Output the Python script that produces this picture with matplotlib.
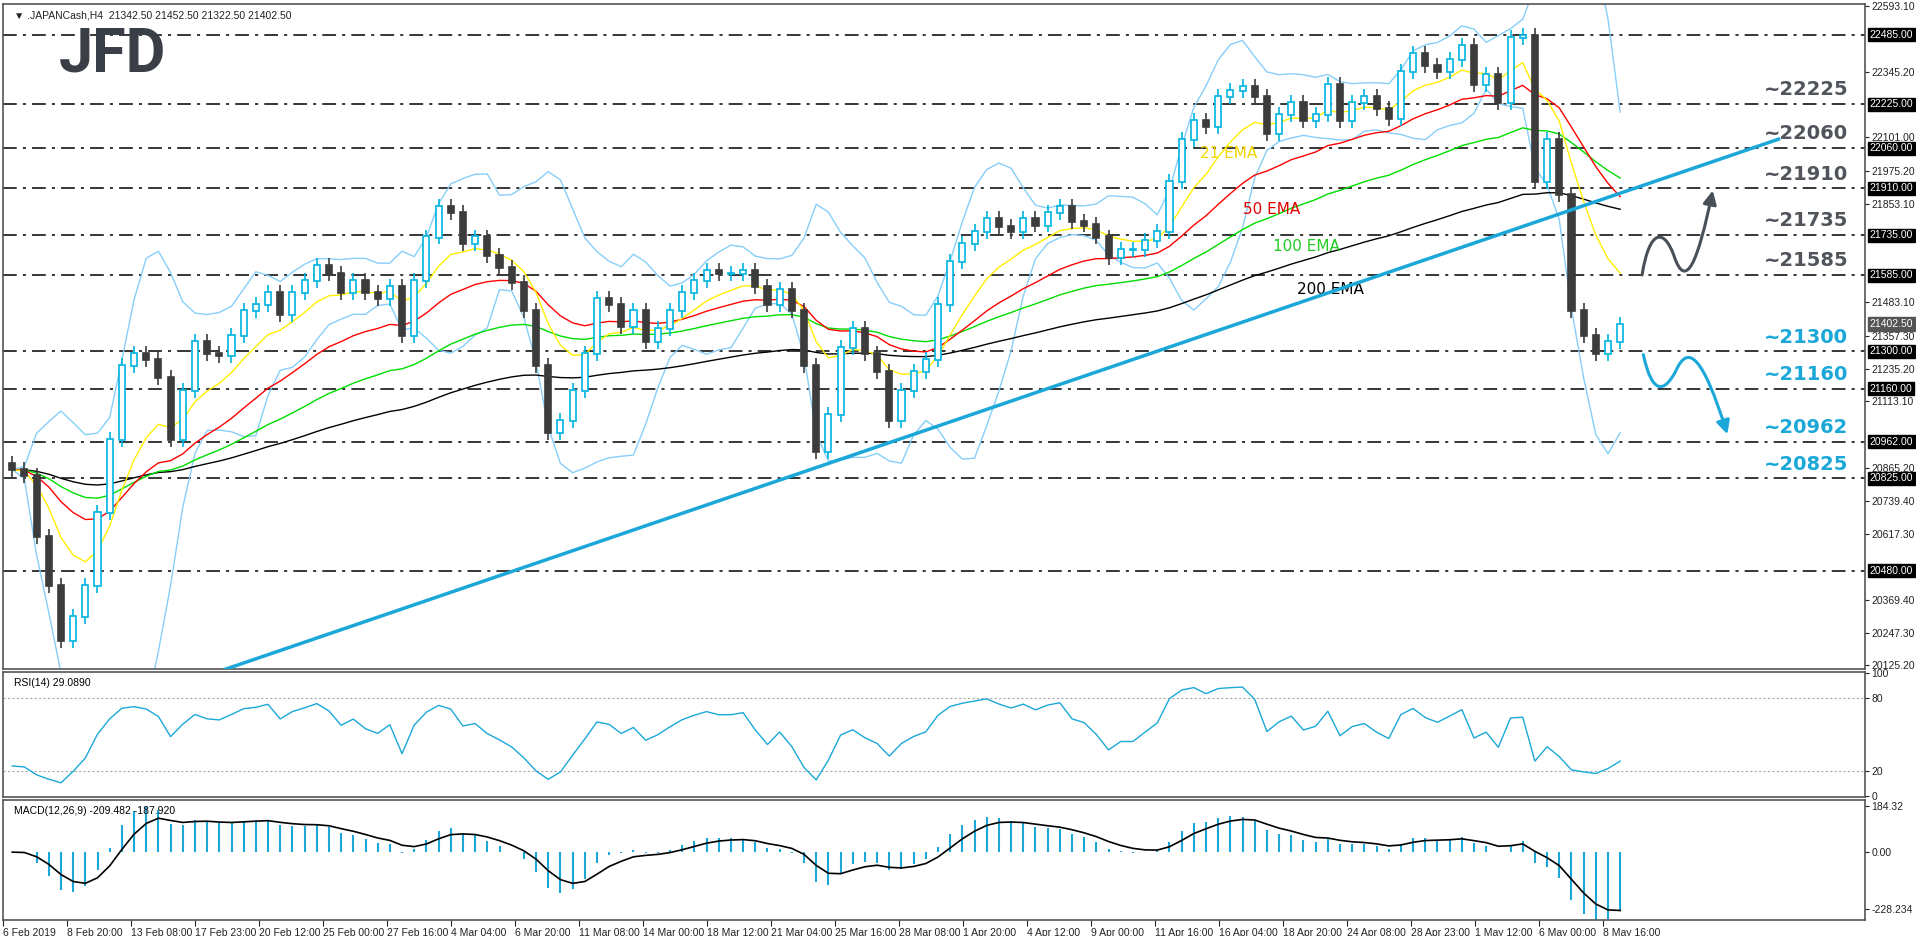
import numpy as np
import matplotlib
matplotlib.use("Agg")
import matplotlib.pyplot as plt
from matplotlib.patches import FancyArrowPatch
from matplotlib.path import Path

plt.rcParams['font.family'] = ['Liberation Sans', 'DejaVu Sans']

closes = [20858,20835,20606,20423,20217,20308,20423,20697,20972,21247,21293,21270,21201,20972,21155,
          21338,21293,21283,21361,21453,21476,21521,21439,21521,21567,21622,21590,21521,21567,21521,
          21498,21544,21361,21567,21728,21842,21819,21705,21728,21659,21613,21558,21453,21247,20995,
          21041,21155,21293,21498,21476,21393,21453,21338,21384,21453,21521,21567,21604,21590,21590,
          21604,21544,21476,21531,21453,21247,20926,21064,21315,21384,21293,21224,21041,21155,21224,
          21270,21476,21636,21705,21750,21796,21769,21750,21796,21773,21819,21842,21787,21773,21728,
          21650,21682,21682,21714,21750,21934,22094,22163,22140,22254,22277,22291,22254,22117,22186,
          22231,22163,22186,22300,22163,22231,22254,22208,22172,22346,22414,22369,22346,22392,22446,
          22300,22337,22231,22474,22483,21934,22094,21888,21453,21361,21293,21338,21402]
first_open = 20880
levels = [22485, 22225, 22060, 21910, 21735, 21585, 21300, 21160, 20962, 20825, 20480]
level_labels = ["~22225", "~22060", "~21910", "~21735", "~21585", "~21300", "~21160", "~20962", "~20825"]
level_label_vals = [22225, 22060, 21910, 21735, 21585, 21300, 21160, 20962, 20825]
level_label_colors = ["#50555c"]*5 + ["#1ba8d8"]*4
price_ticks = [22593.10, 22345.20, 22101.00, 21975.20, 21853.10, 21483.10, 21357.30, 21235.20,
               21113.10, 20865.20, 20739.40, 20617.30, 20369.40, 20247.30, 20125.20]
date_labels = ["6 Feb 2019", "8 Feb 20:00", "13 Feb 08:00", "17 Feb 23:00", "20 Feb 12:00", "25 Feb 00:00",
               "27 Feb 16:00", "4 Mar 04:00", "6 Mar 20:00", "11 Mar 08:00", "14 Mar 00:00", "18 Mar 12:00",
               "21 Mar 04:00", "25 Mar 16:00", "28 Mar 08:00", "1 Apr 20:00", "4 Apr 12:00", "9 Apr 00:00",
               "11 Apr 16:00", "16 Apr 04:00", "18 Apr 20:00", "24 Apr 08:00", "28 Apr 23:00", "1 May 12:00",
               "6 May 00:00", "8 May 16:00"]

c = np.array(closes, float)
o = np.concatenate([[first_open], c[:-1]])
hi = np.maximum(o, c) + 28
lo = np.minimum(o, c) - 28
n = len(c)
x = np.arange(n)

def ema(a, p):
    k = 2/(p+1); out = np.empty_like(a); out[0] = a[0]
    for i in range(1, len(a)):
        out[i] = a[i]*k + out[i-1]*(1-k)
    return out

e21, e50, e100, e200 = ema(c, 8), ema(c, 20), ema(c, 40), ema(c, 80)
bw = 8
mid = np.array([c[max(0, i-bw+1):i+1].mean() for i in range(n)])
sd = np.array([c[max(0, i-bw+1):i+1].std() for i in range(n)])
d = np.diff(c, prepend=c[0])
up = np.where(d > 0, d, 0); dn = np.where(d < 0, -d, 0)
def wilder(a, p):
    out = np.empty_like(a); out[0] = a[1:p+1].mean()
    for i in range(1, len(a)):
        out[i] = (out[i-1]*(p-1) + a[i])/p
    return out
au, ad = wilder(up, 6), wilder(dn, 6)
rsi = 100 - 100/(1 + au/np.maximum(ad, 1e-9))
macd = ema(c, 5) - ema(c, 11)
sig = ema(macd, 4)

fig = plt.figure(figsize=(19.16, 9.36), dpi=100)
L, W = 0.0016, 0.9718
ax = fig.add_axes([L, 0.2853, W, 0.7105])
ax2 = fig.add_axes([L, 0.1485, W, 0.1335])
ax3 = fig.add_axes([L, 0.0171, W, 0.1282])
xl = (-0.75, 152.1)
for a in (ax, ax2, ax3):
    a.set_xlim(*xl)
    for s in a.spines.values():
        s.set_color("#555555"); s.set_linewidth(1.2)
    a.tick_params(axis="both", labelsize=7.5, colors="#222222", length=3, pad=1.5)
    a.yaxis.tick_right()
    a.set_xticks([])

# main
ax.set_ylim(20112, 22600)
for lv in levels:
    ax.axhline(lv, color="black", lw=1.1, ls=(0, (9, 4, 2, 4)), zorder=1)
ax.plot(x, mid + 2*sd, color="#87cefa", lw=1)
ax.plot(x, mid - 2*sd, color="#87cefa", lw=1)
ax.plot(x, e200, color="black", lw=1)
ax.plot(x, e100, color="#00dd00", lw=1)
ax.plot(x, e50, color="red", lw=1)
ax.plot(x, e21, color="#ffee00", lw=1)
bull = c >= o
ax.vlines(x, lo, hi, color=np.where(bull, "#00b4e0", "#3c3c3c"), lw=1.2, zorder=3)
ax.bar(x, np.abs(c-o)+4, bottom=np.minimum(o, c)-2, width=0.5,
       color=np.where(bull, "#ffffff", "#3c3c3c"), edgecolor=np.where(bull, "#00b4e0", "#3c3c3c"),
       lw=1.2, zorder=4)
ax.plot([17.5, 145], [20111, 22094], color="#1ba8d8", lw=2.5, zorder=5)
ax.text(97.5, 22025, "21 EMA", color="#f2d600", fontsize=11, family="DejaVu Sans")
ax.text(101, 21815, "50 EMA", color="#e00000", fontsize=11, family="DejaVu Sans")
ax.text(103.5, 21675, "100 EMA", color="#22cc22", fontsize=11, family="DejaVu Sans")
ax.text(105.5, 21515, "200 EMA", color="black", fontsize=11, family="DejaVu Sans")
for lbl, v, col in zip(level_labels, level_label_vals, level_label_colors):
    ax.text(0.991, v+18, lbl, transform=ax.get_yaxis_transform(), ha="right", va="bottom",
            fontsize=14, fontweight="bold", color=col, family="DejaVu Sans")
ax.set_yticks(price_ticks)
ax.set_yticklabels([f"{t:.2f}" for t in price_ticks])
for lv in levels:
    ax.text(1.0025, lv, f"{lv:.2f}", transform=ax.get_yaxis_transform(), fontsize=7.5, color="white",
            va="center", ha="left", bbox=dict(boxstyle="square,pad=0.15", fc="black", ec="black"))
ax.text(1.0025, 21402.5, "21402.50", transform=ax.get_yaxis_transform(), fontsize=7.5, color="white",
        va="center", ha="left", bbox=dict(boxstyle="square,pad=0.15", fc="#555555", ec="#555555"))
# scenario arrows
gp = Path([(133.8, 21586), (134.4, 21760), (135.6, 21760), (136.4, 21660), (137.4, 21520),
           (138.4, 21640), (139.6, 21902)],
          [Path.MOVETO, Path.CURVE4, Path.CURVE4, Path.CURVE4, Path.CURVE4, Path.CURVE4, Path.CURVE4])
ax.add_patch(FancyArrowPatch(path=gp, arrowstyle="-|>,head_length=8,head_width=4", color="#4a5058", lw=2.2, zorder=6))
bp = Path([(133.9, 21288), (134.6, 21140), (135.6, 21140), (136.6, 21230), (137.6, 21330),
           (138.8, 21280), (140.8, 20990)],
          [Path.MOVETO, Path.CURVE4, Path.CURVE4, Path.CURVE4, Path.CURVE4, Path.CURVE4, Path.CURVE4])
ax.add_patch(FancyArrowPatch(path=bp, arrowstyle="-|>,head_length=8,head_width=4", color="#1ba8d8", lw=2.2, zorder=6))
ax.text(0.006, 0.99, "\u25bc .JAPANCash,H4  21342.50 21452.50 21322.50 21402.50", transform=ax.transAxes,
        fontsize=7.5, va="top", color="#222222")
ax.text(0.03, 0.88, "JFD", transform=ax.transAxes, fontsize=44, fontweight="bold", color="#3a3f47",
        va="bottom", family="Roboto")

# RSI
ax2.set_ylim(-1, 101)
ax2.axhline(80, color="#aaaaaa", ls=(0, (2, 2)), lw=0.8)
ax2.axhline(20, color="#aaaaaa", ls=(0, (2, 2)), lw=0.8)
ax2.plot(x, rsi, color="#1ba8d8", lw=1)
ax2.set_yticks([100, 80, 20, 0]); ax2.set_yticklabels(["100", "80", "20", "0"])
ax2.text(0.006, 0.95, "RSI(14) 29.0890", transform=ax2.transAxes, fontsize=7.5, va="top")

# MACD
ax3.set_ylim(-272, 209)
ax3.vlines(x, 0, macd, color="#1ba8d8", lw=1.5)
ax3.plot(x, sig, color="black", lw=1.2)
ax3.set_yticks([184.32, 0, -228.234]); ax3.set_yticklabels(["184.32", "0.00", "-228.234"])
ax3.text(0.006, 0.95, "MACD(12,26,9) -209.482 -187.920", transform=ax3.transAxes, fontsize=7.5, va="top")
tick_idx = [-0.754 + 5.255*k for k in range(len(date_labels))]
ax3.set_xticks(tick_idx)
ax3.set_xticklabels(date_labels, fontsize=7.5, ha="left")
ax3.tick_params(axis="x", length=4, pad=2)

fig.savefig("out.png", dpi=100)
